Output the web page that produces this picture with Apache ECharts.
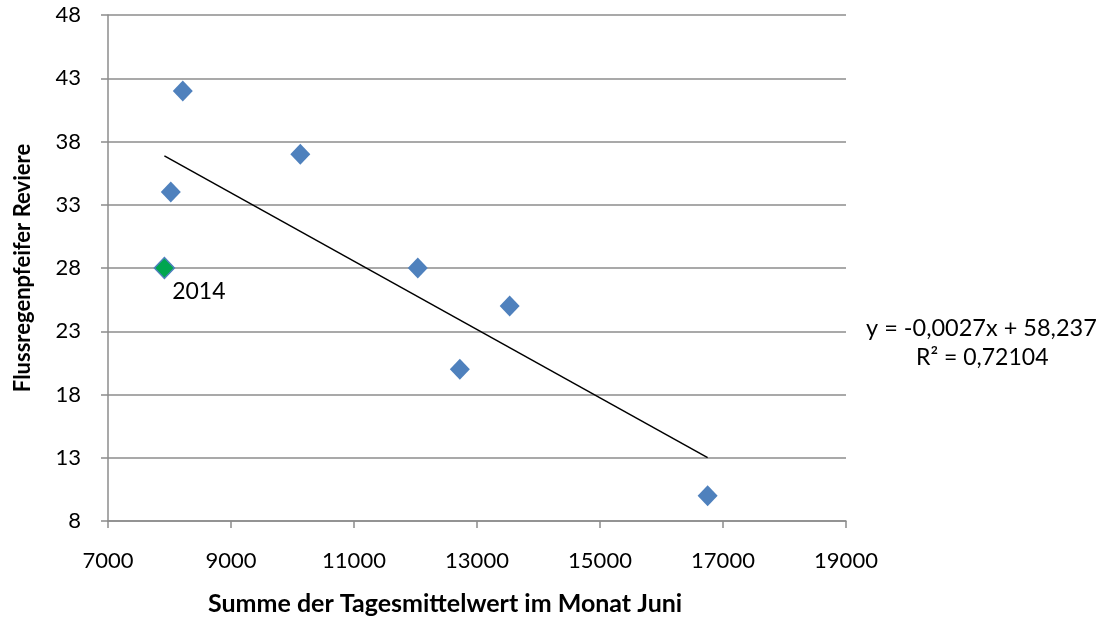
<!DOCTYPE html>
<html>
<head>
<meta charset="utf-8">
<script src="https://cdn.jsdelivr.net/npm/echarts@6/dist/echarts.min.js"></script>
<style>
html, body { margin: 0; padding: 0; background: #fff; }
#main { width: 1104px; height: 617px; }
</style>
</head>
<body>
<div id="main"></div>
<script>
// Summe der Tagesmittelwerte (Juni) vs. Flussregenpfeifer Reviere
var sumJune   = [8216, 10127, 8021, 12037, 13531, 12721, 16750];
var reviere   = [42, 37, 34, 28, 25, 20, 10];
var point2014 = [7917, 28];
var yTicks    = [8, 48, 5];
var xTicks    = [7000, 19000, 2000];
// trendline as printed in the chart
var slope = -0.0027;
var intercept = 58.237;
var eqText = ['y = -0,0027x + 58,237', 'R² = 0,72104'];

var allX = sumJune.concat([point2014[0]]);
var xLo = Math.min.apply(null, allX), xHi = Math.max.apply(null, allX);
var trend = [[xLo, slope * xLo + intercept], [xHi, slope * xHi + intercept]];

var font = 'Lato, "Open Sans", sans-serif';
var myChart = echarts.init(document.getElementById('main'));
option = {
    animation: false,
    grid: { left: 108, right: 258, top: 15, bottom: 96, outerBoundsMode: 'none', containLabel: false },
    xAxis: {
        type: 'value',
        min: xTicks[0], max: xTicks[1], interval: xTicks[2],
        axisLine: { lineStyle: { color: '#8c8c8c', width: 1.5 } },
        axisTick: { show: true, length: 7, lineStyle: { color: '#8c8c8c', width: 1.5 } },
        axisLabel: { color: '#000', fontSize: 22, fontFamily: font, margin: 29,
            formatter: function (v) { return String(v); } },
        splitLine: { show: false }
    },
    yAxis: {
        type: 'value',
        min: yTicks[0], max: yTicks[1], interval: yTicks[2],
        axisLine: { show: true, lineStyle: { color: '#8c8c8c', width: 1.5 } },
        axisTick: { show: true, length: 7, lineStyle: { color: '#8c8c8c', width: 1.5 } },
        axisLabel: { color: '#000', fontSize: 22, fontFamily: font, margin: 27 },
        splitLine: { lineStyle: { color: '#8c8c8c', width: 1.5 } },
        name: 'Flussregenpfeifer Reviere',
        nameLocation: 'middle',
        nameGap: 74,
        nameTextStyle: { color: '#000', fontSize: 22, fontWeight: 'bold', fontFamily: font }
    },
    graphic: [{
        type: 'text', left: 208, top: 591,
        style: { text: 'Summe der Tagesmittelwert im Monat Juni', fill: '#000', fontSize: 25, fontWeight: 'bold', fontFamily: font }
    }, {
        type: 'text', left: 866, top: 316,
        style: { text: eqText[0], fill: '#000', fontSize: 23.5, fontFamily: font }
    }, {
        type: 'text', left: 916, top: 346,
        style: { text: eqText[1], fill: '#000', fontSize: 23, fontFamily: font }
    }],
    series: [{
        type: 'line',
        data: trend,
        symbol: 'none',
        lineStyle: { color: '#000', width: 1.5 },
        z: 1
    }, {
        type: 'scatter',
        data: sumJune.map(function (x, i) { return [x, reviere[i]]; }),
        symbol: 'diamond',
        symbolSize: [20, 21],
        itemStyle: { color: '#4f81bd', opacity: 1 },
        z: 3
    }, {
        type: 'scatter',
        data: [point2014],
        symbol: 'diamond',
        symbolSize: [20, 21],
        itemStyle: { color: '#00a64f', borderColor: '#4f81bd', borderWidth: 1.5, opacity: 1 },
        label: {
            show: true, formatter: '2014', position: 'right',
            offset: [-8, 24],
            color: '#000', fontSize: 23, fontFamily: font
        },
        z: 3
    }]
};
myChart.setOption(option);

window.onresize = function () {
    myChart.resize();
};
</script>
</body>
</html>
